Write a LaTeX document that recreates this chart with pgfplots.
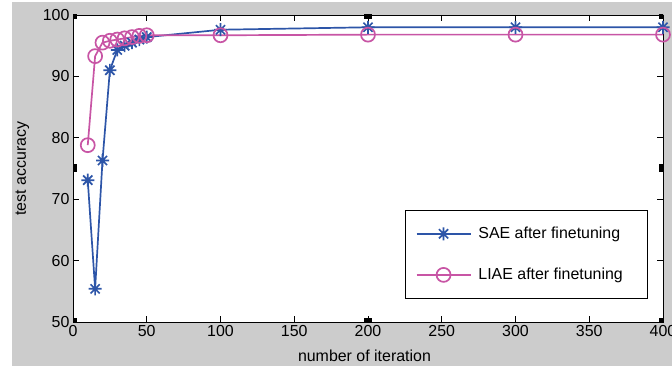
\documentclass[border=0pt]{standalone}
\usepackage{pgfplots}
\pgfplotsset{compat=1.18}
\usepackage{fontspec}
\setmainfont{Liberation Sans}
\definecolor{figgray}{RGB}{204,204,204}
\definecolor{saeblue}{RGB}{45,85,168}
\definecolor{liaepink}{RGB}{200,85,165}
\pgfdeclareplotmark{mstar}{%
  \pgfpathmoveto{\pgfqpoint{-\pgfplotmarksize}{0pt}}\pgfpathlineto{\pgfqpoint{\pgfplotmarksize}{0pt}}%
  \pgfpathmoveto{\pgfqpoint{0pt}{-\pgfplotmarksize}}\pgfpathlineto{\pgfqpoint{0pt}{\pgfplotmarksize}}%
  \pgfpathmoveto{\pgfqpoint{-0.707\pgfplotmarksize}{-0.707\pgfplotmarksize}}\pgfpathlineto{\pgfqpoint{0.707\pgfplotmarksize}{0.707\pgfplotmarksize}}%
  \pgfpathmoveto{\pgfqpoint{-0.707\pgfplotmarksize}{0.707\pgfplotmarksize}}\pgfpathlineto{\pgfqpoint{0.707\pgfplotmarksize}{-0.707\pgfplotmarksize}}%
  \pgfusepathqstroke}
\tikzset{handle/.style={fill=black}}
\begin{document}
\begin{tikzpicture}[font=\fontsize{16}{19}\selectfont]
\useasboundingbox (0,0) rectangle (672bp,366bp);
\clip (0,0) rectangle (672bp,366bp);
\fill[white] (0,0) rectangle (672bp,366bp);
\fill[figgray] (12bp,0) rectangle (672bp,364bp);
\begin{axis}[
  at={(73bp,44bp)}, anchor=south west,
  scale only axis, width=590bp, height=307bp,
  xmin=0, xmax=400, ymin=50, ymax=100,
  xtick={0,50,...,400}, ytick={50,60,...,100},
  tick align=inside, major tick length=6bp,
  axis line style={line width=0.8bp},
  tick style={line width=0.8bp, black},
  /pgf/number format/assume math mode=true,
  axis background/.style={fill=white},
  every axis x label/.style={at={(axis description cs:0.494,-0.111)}, anchor=center},
  every axis y label/.style={at={(axis description cs:-0.0856,0.5)}, rotate=90, anchor=center},
  xlabel={number of iteration},
  ylabel={test accuracy},
  legend style={at={(axis description cs:0.975,0.365)}, anchor=north east,
    draw=black, line width=0.8bp, inner xsep=10bp, inner ysep=15bp,
    row sep=24bp, cells={anchor=west},
    /tikz/every odd column/.append style={column sep=5bp},
    font=\fontsize{16}{19}\selectfont},
  legend image code/.code={%
    \draw[mark repeat=2,mark phase=2,#1] plot coordinates {(0bp,0bp) (27bp,0bp) (54bp,0bp)};},
]
\addplot[saeblue, line width=1.7bp, mark=mstar, mark size=6.5bp, mark options={line width=1.7bp}] coordinates {
 (10,73.1) (15,55.4) (20,76.3) (25,91.0) (30,94.3) (35,95.0) (40,95.5) (45,96.0) (50,96.4)
 (100,97.6) (200,98.0) (300,98.0) (400,98.0)};
\addlegendentry{SAE after finetuning}
\addplot[liaepink, line width=1.7bp, mark=o, mark size=7bp, mark options={line width=1.7bp}] coordinates {
 (10,78.8) (15,93.3) (20,95.5) (25,95.8) (30,96.0) (35,96.2) (40,96.4) (45,96.6) (50,96.7)
 (100,96.7) (200,96.8) (300,96.8) (400,96.8)};
\addlegendentry{LIAE after finetuning\kern13bp}
\fill[handle] (axis description cs:0,0) ++(-4bp,-4bp) rectangle ++(8bp,8bp);
\fill[handle] (axis description cs:0,0.5) ++(-4bp,-4bp) rectangle ++(8bp,8bp);
\fill[handle] (axis description cs:0,1) ++(-4bp,-4bp) rectangle ++(8bp,8bp);
\fill[handle] (axis description cs:0.5,0) ++(-4bp,-4bp) rectangle ++(8bp,8bp);
\fill[handle] (axis description cs:0.5,1) ++(-4bp,-4bp) rectangle ++(8bp,8bp);
\fill[handle] (axis description cs:1,0) ++(-4bp,-4bp) rectangle ++(8bp,8bp);
\fill[handle] (axis description cs:1,0.5) ++(-4bp,-4bp) rectangle ++(8bp,8bp);
\fill[handle] (axis description cs:1,1) ++(-4bp,-4bp) rectangle ++(8bp,8bp);
\end{axis}
\end{tikzpicture}
\end{document}
